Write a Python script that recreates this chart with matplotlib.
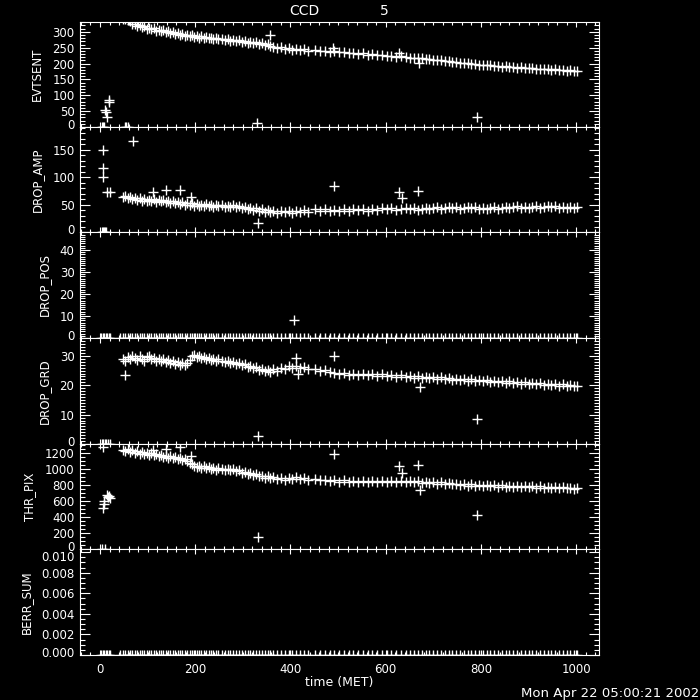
import matplotlib.pyplot as plt
from matplotlib.ticker import MultipleLocator, FormatStrFormatter
from matplotlib.transforms import ScaledTranslation

# ---- data (time in MET) ----
band_t = [48, 53, 58, 63, 68, 73, 78, 83, 88, 93, 98, 103, 108, 113, 118, 123, 128, 133, 138, 143,
          148, 153, 158, 163, 168, 173, 178, 183, 188, 193, 198, 203, 208, 213, 218, 223, 228, 233, 238, 243,
          248,
          256, 262, 268, 274, 280, 286, 292, 298, 304, 310, 316, 322, 328, 334, 340, 346, 352, 358, 364, 372,
          380, 388, 396, 404, 412, 420, 428, 436,
          452, 462, 472, 482, 492, 502, 512, 522, 532, 542, 552, 562, 572, 582, 592, 602, 612, 622, 632, 642,
          652,
          660, 668, 676, 684, 692, 700, 708, 716, 724, 732, 740, 748, 756, 764, 772, 780, 788, 796, 804, 812,
          820, 828, 836, 844, 852, 860, 868, 876, 884, 892, 900, 908, 916, 924, 932, 940, 948, 956, 964, 972,
          980, 988, 996, 1002]

evtsent = [342, 340, 336, 333, 326, 324, 318, 320, 315, 317, 310, 313, 308, 311, 304, 307, 302, 305, 299, 302,
           296, 299, 293, 296, 290, 294, 288, 291, 286, 289, 284, 287, 282, 286, 280, 283, 279, 282, 277, 280,
           276,
           278, 274, 277, 272, 275, 270, 273, 268, 271, 266, 269, 264, 267, 262, 265, 260, 263, 255, 252, 250,
           252, 247, 249, 244, 247, 243, 246, 241,
           243, 240, 241, 238, 239, 235, 236, 233, 234, 230, 232, 228, 229, 226, 227, 224, 225, 222, 223, 220,
           219,
           218, 216, 217, 214, 213, 212, 210, 211, 208, 207, 206, 205, 203, 202, 201, 199, 198, 196, 197, 194,
           195, 192, 193, 190, 191, 189, 190, 187, 188, 186, 185, 186, 184, 183, 184, 182, 181, 182, 180, 179,
           178, 179, 177, 176]

drop_amp = [63, 65, 61, 64, 60, 62, 58, 61, 57, 60, 56, 59, 57, 60, 55, 58, 56, 59, 54, 57,
            53, 56, 52, 55, 51, 54, 50, 53, 49, 52, 48, 51, 47, 50, 48, 51, 47, 50, 46, 49,
            47,
            49, 45, 48, 46, 49, 45, 47, 43, 46, 42, 44, 40, 43, 39, 41, 37, 40, 36, 39, 35,
            38, 36, 39, 35, 38, 36, 40, 37,
            42, 39, 41, 38, 40, 38, 41, 39, 42, 40, 41, 39, 42, 40, 43, 41, 43, 40, 42, 44,
            41,
            43, 40, 42, 44, 41, 43, 45, 42, 44, 46, 43, 45, 42, 44, 46, 43, 45, 42, 44, 41,
            43, 45, 42, 44, 46, 43, 45, 47, 44, 46, 43, 45, 47, 44, 46, 48, 45, 47, 44, 46,
            43, 45, 44, 45]

drop_grd = [29.0, 28.4, 29.6, 28.8, 30.1, 29.2, 28.5, 29.8, 29.0, 28.3, 29.5, 30.0, 28.9, 29.4, 28.4, 29.1,
            28.2, 28.8, 27.9, 28.5, 27.6, 28.2, 27.3, 27.8, 27.0, 27.6, 26.9, 27.5, 28.6, 29.8, 30.2, 29.6,
            30.0, 29.2, 29.7, 29.0, 29.4, 28.7, 29.1, 28.4, 28.8,
            28.3, 27.8, 28.4, 27.6, 27.9, 27.2, 27.6, 26.8, 27.1, 26.3, 26.7, 25.8, 26.2, 25.3, 25.7, 24.8,
            25.2, 24.5, 25.5, 25.0, 26.0, 25.4, 26.4, 25.8, 26.6, 25.9, 26.3, 25.6,
            25.4, 25.0, 25.2, 24.5, 24.3, 24.0, 24.2, 23.6, 24.0, 23.5, 23.9, 23.4, 23.8, 23.3, 23.7, 23.1,
            23.5, 22.9, 23.4, 22.8, 23.2,
            22.6, 23.0, 22.5, 22.9, 22.4, 22.8, 22.3, 22.7, 22.2, 22.5, 21.9, 22.3, 21.8, 22.2, 21.6, 22.0,
            21.5, 21.9, 21.3, 21.7, 21.2, 21.6, 21.0, 21.4, 20.9, 21.3, 20.8, 21.2, 20.6, 21.0, 20.5, 20.9,
            20.3, 20.7, 20.2, 20.6, 20.0, 20.4, 19.9, 20.3, 19.7, 20.1, 19.6, 19.9]

thr_pix = [1240, 1225, 1250, 1220, 1235, 1205, 1225, 1195, 1215, 1190, 1205, 1180, 1200, 1175, 1190, 1165,
           1180, 1150, 1170, 1145, 1160, 1135, 1150, 1125, 1140, 1115, 1130, 1100, 1080, 1060, 1045, 1030,
           1045, 1020, 1035, 1010, 1025, 1000, 1020, 995, 1010,
           1000, 985, 1005, 990, 1000, 975, 985, 955, 965, 940, 950, 925, 935, 910, 920, 895,
           910, 885, 900, 875, 895, 870, 890, 875, 900, 880, 895, 870,
           880, 860, 870, 850, 862, 845, 858, 840, 852, 835, 850, 838, 855, 840, 852, 836,
           850, 838, 856, 840, 852,
           835, 848, 830, 842, 825, 840, 820, 835, 815, 828, 808, 820, 800, 812, 795, 808,
           790, 805, 788, 802, 785, 800, 782, 798, 780, 795, 778, 792, 775, 790, 772, 788,
           770, 785, 768, 782, 765, 778, 762, 775, 758, 770, 755, 765]

drop_pos = [0] * len(band_t)
berr_sum = [0.0] * len(band_t)

# early data and outliers
evt_xt = [4, 6, 8, 10, 12, 14, 18, 19, 52, 55, 58, 329, 357, 490, 627, 669, 792]
evt_xv = [0, 0, 0, 55, 48, 33, 86, 78, 0, 0, 0, 12, 290, 250, 233, 202, 30]

amp_xt = [4, 6, 8, 10, 12, 7, 7, 7, 14, 20, 69, 112, 138, 168, 192, 331, 492, 627, 635, 667]
amp_xv = [0, 0, 0, 0, 0, 150, 116, 100, 73, 73, 165, 73, 76, 76, 64, 16, 84, 72, 61, 75]

pos_xt = [3, 6, 9, 12, 15, 18, 21, 42, 408]
pos_xv = [0, 0, 0, 0, 0, 0, 0, 0, 8]

grd_xt = [4, 7, 10, 13, 16, 20, 52, 331, 412, 415, 492, 672, 792]
grd_xv = [0, 0, 0, 0, 0, 0, 23.5, 2.7, 29.2, 23.8, 30.1, 19.5, 8.4]

thr_xt = [5, 7, 8, 7, 9, 10, 14, 16, 18, 20, 112, 138, 168, 192, 331, 492, 627, 635, 667, 672, 792]
thr_xv = [0, 1275, 596, 515, 560, 0, 680, 650, 660, 640, 1240, 1250, 1275, 1170, 152, 1193, 1037, 946,
          1050, 741, 420]

berr_xt = [3, 6, 9, 12, 15, 18, 21, 42]
berr_xv = [0, 0, 0, 0, 0, 0, 0, 0]

panels = [
    ("EVTSENT", evtsent, evt_xt, evt_xv, (0, 331), 50, 10, "%d"),
    ("DROP_AMP", drop_amp, amp_xt, amp_xv, (0, 191), 50, 10, "%d"),
    ("DROP_POS", drop_pos, pos_xt, pos_xv, (0, 48.2), 10, 1, "%d"),
    ("DROP_GRD", drop_grd, grd_xt, grd_xv, (0, 36.1), 10, 1, "%d"),
    ("THR_PIX", thr_pix, thr_xt, thr_xv, (0, 1315), 200, 50, "%d"),
    ("BERR_SUM", berr_sum, berr_xt, berr_xv, (0, 0.0103), 0.002, 0.0005, "%.3f"),
]

plt.rcParams["font.family"] = "DejaVu Sans"
plt.rcParams["text.color"] = "white"

fig = plt.figure(figsize=(7, 7), dpi=100, facecolor="black")

# panel edges in pixels from top
edges = [22, 127, 232, 338, 444, 549, 655]
left, right = 80 / 700, 599 / 700

mk = dict(linestyle="none", marker="+", ms=7.2, mew=1.0, color="white", antialiased=False)

for i, (name, vals, xt, xv, ylim, major, minor, fmt) in enumerate(panels):
    top, bot = edges[i], edges[i + 1]
    ax = fig.add_axes([left, 1 - bot / 700, right - left, (bot - top) / 700])
    ax.set_facecolor("black")
    ax.plot(band_t, vals, **mk)
    ax.plot(xt, xv, **mk)
    ax.set_xlim(-42, 1048)
    ax.set_ylim(*ylim)
    ax.xaxis.set_major_locator(MultipleLocator(200))
    ax.xaxis.set_minor_locator(MultipleLocator(20))
    ax.yaxis.set_major_locator(MultipleLocator(major))
    ax.yaxis.set_minor_locator(MultipleLocator(minor))
    ax.yaxis.set_major_formatter(FormatStrFormatter(fmt))
    for sp in ax.spines.values():
        sp.set_color("white")
        sp.set_linewidth(0.8)
    ax.tick_params(axis="both", which="both", direction="in", colors="white",
                   top=True, right=True, labelsize=8.5, width=0.8)
    ax.tick_params(axis="y", which="major", length=7.2, pad=4)
    ax.tick_params(axis="y", which="minor", length=3.6)
    ax.tick_params(axis="x", which="major", length=3.6, pad=6)
    ax.tick_params(axis="x", which="minor", length=2.2)
    ax.set_ylabel(name, color="white", fontsize=8.5, labelpad=6)
    if i < len(panels) - 1:
        ax.tick_params(axis="x", labelbottom=False)
    else:
        ax.set_xlabel("time (MET)", color="white", fontsize=9, labelpad=0)

    # nudge the end labels inward, as in the original
    fig.canvas.draw()
    for tk in ax.yaxis.get_major_ticks():
        loc = tk.get_loc()
        if abs(loc - ylim[0]) < 1e-9:
            tk.label1.set_transform(tk.label1.get_transform()
                                    + ScaledTranslation(0, 2.2 / 72, fig.dpi_scale_trans))
        elif abs(loc - 0.01) < 1e-9:
            tk.label1.set_transform(tk.label1.get_transform()
                                    + ScaledTranslation(0, -2.9 / 72, fig.dpi_scale_trans))

fig.text(304 / 700, 1 - 11 / 700, "CCD", ha="center", va="center", fontsize=10, color="white")
fig.text(384 / 700, 1 - 11 / 700, "5", ha="center", va="center", fontsize=10, color="white")
fig.text(699 / 700, 1 - 694 / 700, "Mon Apr 22 05:00:21 2002", ha="right", va="center",
         fontsize=9.5, color="white")

fig.savefig("out.png", dpi=100, facecolor="black")
